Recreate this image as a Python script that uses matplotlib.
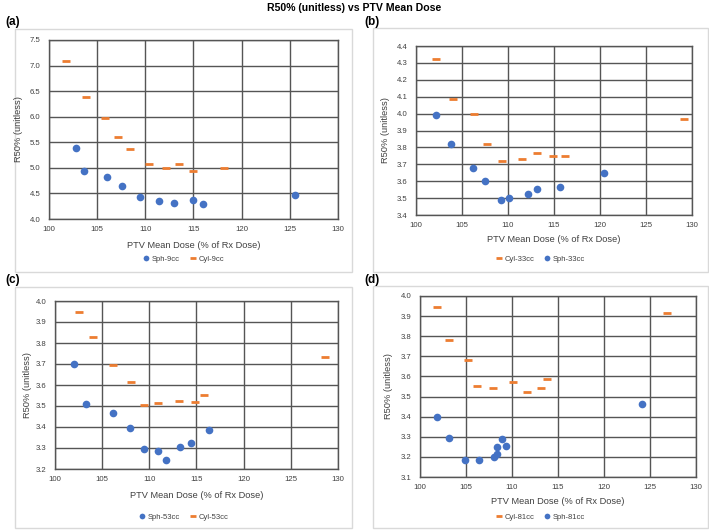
import matplotlib
matplotlib.use('Agg')
import matplotlib.pyplot as plt
from matplotlib.patches import Rectangle

# DATA
sph9_x = [102.8, 103.6, 106.0, 107.6, 109.4, 111.4, 113.0, 114.9, 116.0, 125.5]
sph9_y = [5.39, 4.94, 4.82, 4.64, 4.43, 4.35, 4.31, 4.37, 4.29, 4.46]
cyl9_x = [101.8, 103.8, 105.8, 107.2, 108.4, 110.4, 112.1, 113.5, 114.9, 118.2]
cyl9_y = [7.08, 6.38, 5.97, 5.61, 5.36, 5.08, 4.99, 5.08, 4.94, 5.00]

cyl33_x = [102.2, 104.0, 106.3, 107.7, 109.4, 111.5, 113.2, 114.9, 116.2, 129.1]
cyl33_y = [4.323, 4.089, 3.996, 3.823, 3.719, 3.729, 3.768, 3.752, 3.748, 3.969]
sph33_x = [102.2, 103.8, 106.2, 107.5, 109.2, 110.1, 112.2, 113.2, 115.7, 120.4]
sph33_y = [3.994, 3.819, 3.680, 3.599, 3.491, 3.498, 3.524, 3.554, 3.567, 3.648]

sph53_x = [102.0, 103.3, 106.2, 107.9, 109.4, 110.9, 111.8, 113.2, 114.4, 116.3]
sph53_y = [3.699, 3.510, 3.469, 3.395, 3.295, 3.284, 3.244, 3.306, 3.323, 3.384]
cyl53_x = [102.5, 104.0, 106.2, 108.1, 109.4, 110.9, 113.1, 114.8, 115.8, 128.6]
cyl53_y = [3.946, 3.827, 3.697, 3.613, 3.507, 3.513, 3.525, 3.521, 3.553, 3.732]

cyl81_x = [101.9, 103.1, 105.2, 106.2, 107.9, 110.1, 111.6, 113.1, 113.8, 126.9]
cyl81_y = [3.947, 3.779, 3.681, 3.551, 3.542, 3.573, 3.522, 3.542, 3.588, 3.914]
sph81_x = [101.9, 103.2, 104.9, 106.4, 108.0, 108.4, 108.4, 108.9, 109.4, 124.1]
sph81_y = [3.397, 3.296, 3.183, 3.186, 3.198, 3.213, 3.249, 3.289, 3.256, 3.463]

BLUE = '#4472C4'
ORANGE = '#ED7D31'
GRID = '#555555'
TXT = '#404040'

plt.rcParams['font.family'] = ['Liberation Sans', 'DejaVu Sans']

fig = plt.figure(figsize=(7.09, 5.30), dpi=100)


def px_box(x0, y0, x1, y1):
    # pixel coords (top-left origin) -> figure fraction rect
    return [x0 / 709, 1 - y1 / 530, (x1 - x0) / 709, (y1 - y0) / 530]


def draw_panel(rect, border, label, label_xy, series, ylim, ystep, xlab_y, leg_y, ylab_x):
    # chart area border
    bx = px_box(*border)
    fig.patches.append(Rectangle((bx[0], bx[1]), bx[2], bx[3], transform=fig.transFigure,
                                 facecolor='none', edgecolor='#d9d9d9', linewidth=1, zorder=-1))
    fig.text(label_xy[0] / 709, 1 - label_xy[1] / 530, label, fontsize=8.5, fontweight='bold',
             ha='left', va='center')

    ax = fig.add_axes(px_box(*rect))
    handles = []
    for kind, xs, ys, name in series:
        if kind == 'sph':
            h, = ax.plot(xs, ys, 'o', color=BLUE, markersize=5.5, markeredgewidth=0, label=name, zorder=3)
        else:
            h, = ax.plot(xs, ys, '_', color=ORANGE, markersize=6, markeredgewidth=2.0, label=name, zorder=3)
        handles.append(h)

    ax.set_xlim(100, 130)
    ax.set_ylim(*ylim)
    ax.set_xticks(range(100, 131, 5))
    n = int(round((ylim[1] - ylim[0]) / ystep))
    ax.set_yticks([ylim[0] + i * ystep for i in range(n + 1)])
    ax.yaxis.set_major_formatter(matplotlib.ticker.FormatStrFormatter('%.1f'))
    ax.grid(True, color=GRID, linewidth=1)
    ax.set_axisbelow(True)
    for s in ax.spines.values():
        s.set_color(GRID)
        s.set_linewidth(1)
    ax.tick_params(axis='x', length=0, labelsize=5.6, colors=TXT, pad=5)
    ax.tick_params(axis='y', length=0, labelsize=5.6, colors=TXT, pad=6)
    ax.set_ylabel('R50% (unitless)', fontsize=6.7, color=TXT)
    ax.yaxis.set_label_coords((ylab_x - rect[0]) / (rect[2] - rect[0]), 0.5)

    cx = (rect[0] + rect[2]) / 2 / 709
    fig.text(cx, 1 - xlab_y / 530, 'PTV Mean Dose (% of Rx Dose)', fontsize=6.7,
             color=TXT, ha='center', va='center')
    lx = (border[0] + border[2]) / 2 / 709
    fig.legend(handles=handles, loc='center', bbox_to_anchor=(lx, 1 - leg_y / 530),
               ncol=2, frameon=False, fontsize=5.5, handlelength=0.9, handletextpad=0.3,
               columnspacing=1.2, labelcolor=TXT, markerscale=0.75)
    return ax


draw_panel((49, 40, 338, 219), (15, 29, 352, 272), '(a)', (5, 22),
           [('sph', sph9_x, sph9_y, 'Sph-9cc'), ('cyl', cyl9_x, cyl9_y, 'Cyl-9cc')],
           (4.0, 7.5), 0.5, 245, 259, 23)

draw_panel((416, 46, 692, 215), (373, 28, 708, 272), '(b)', (364, 22),
           [('cyl', cyl33_x, cyl33_y, 'Cyl-33cc'), ('sph', sph33_x, sph33_y, 'Sph-33cc')],
           (3.4, 4.4), 0.1, 239, 259, 390)

draw_panel((55, 301, 338, 469), (15, 287, 352, 528), '(c)', (5, 280),
           [('sph', sph53_x, sph53_y, 'Sph-53cc'), ('cyl', cyl53_x, cyl53_y, 'Cyl-53cc')],
           (3.2, 4.0), 0.1, 495, 517, 32)

draw_panel((420, 296, 696, 477), (373, 286, 708, 528), '(d)', (364, 280),
           [('cyl', cyl81_x, cyl81_y, 'Cyl-81cc'), ('sph', sph81_x, sph81_y, 'Sph-81cc')],
           (3.1, 4.0), 0.1, 501, 517, 393)

fig.text(0.5, 1 - 8 / 530, 'R50% (unitless) vs PTV Mean Dose', fontsize=7.6, fontweight='bold',
         ha='center', va='center')

plt.savefig('out.png', dpi=100)
